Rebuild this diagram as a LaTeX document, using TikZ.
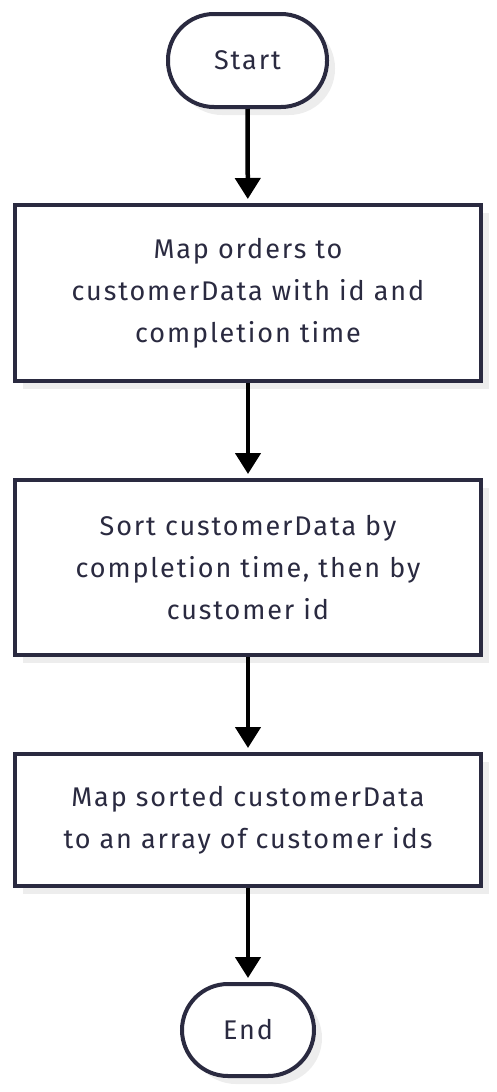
\documentclass[tikz,border=0pt]{standalone}
\usepackage{fontspec}
\setmainfont{Fira Sans}[LetterSpace=7]
\usetikzlibrary{arrows.meta,shadows}
\definecolor{ink}{HTML}{2A2A40}
\definecolor{shade}{HTML}{EDEDED}
\tikzset{
  base/.style={draw=ink, line width=4pt, fill=white, text=ink, align=center,
    font=\fontsize{27}{42}\selectfont,
    drop shadow={shadow xshift=8pt, shadow yshift=-8pt, fill=shade, opacity=1}},
  term/.style={base, rounded corners=46pt, inner sep=0pt},
  proc/.style={base, rectangle, inner sep=0pt, minimum width=466pt},
  flow/.style={draw=black, line width=4.5pt, -{Triangle[length=21pt,width=25pt]}, shorten >=4pt}
}
\begin{document}
\begin{tikzpicture}[x=1pt,y=-1pt]
\useasboundingbox (0,0) rectangle (496,1092);
\node[term, minimum width=159pt, minimum height=93pt] (start) at (247.5,60.5) {Start};
\node[proc, minimum height=176pt] (p1) at (248,293) {Map orders to\\customerData with id and\\completion time};
\node[proc, minimum height=175pt] (p2) at (248,567.5) {Sort customerData by\\completion time, then by\\customer id};
\node[proc, minimum height=132pt] (p3) at (248,820) {Map sorted customerData\\to an array of customer ids};
\node[term, minimum width=132pt, minimum height=92pt] (end) at (248,1030) {End};
\draw[flow] (start) -- (p1);
\draw[flow] (p1) -- (p2);
\draw[flow] (p2) -- (p3);
\draw[flow] (p3) -- (end);
\end{tikzpicture}
\end{document}
